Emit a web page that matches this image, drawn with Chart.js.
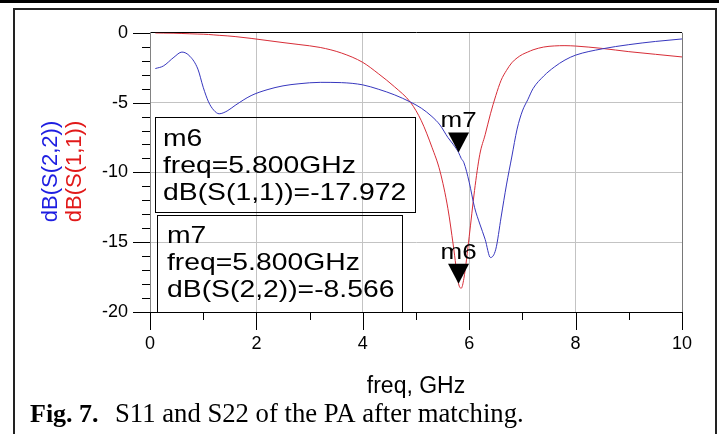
<!DOCTYPE html>
<html>
<head>
<meta charset="utf-8">
<script src="https://cdn.jsdelivr.net/npm/chart.js@4.4.0/dist/chart.umd.min.js"></script>
<style>
html, body { margin: 0; padding: 0; background: #fff; }
#wrap { width: 719px; height: 434px; }
</style>
</head>
<body>
<div id="wrap"><canvas id="grafico" width="719" height="434"></canvas></div>
<script>
// frequencias (GHz) e curvas
const freq = [0.1, 0.25, 0.45, 0.6, 0.75, 0.9, 1.0, 1.1, 1.2, 1.3, 1.45, 1.6, 1.9, 2.2, 2.5, 2.8, 3.2, 3.6,
    4.0, 4.3, 4.6, 4.9, 5.1, 5.3, 5.45, 5.6, 5.7, 5.8, 5.85, 5.9, 6.0, 6.1, 6.2, 6.3, 6.4, 6.5, 6.6, 6.7,
    6.8, 6.9, 7.0, 7.1, 7.2, 7.4, 7.6, 7.8, 8.0, 8.5, 9.0, 9.5, 10];
const s11 = [-0.01, -0.02, -0.03, -0.05, -0.07, -0.09, -0.1, -0.12, -0.15, -0.18, -0.22, -0.27, -0.4, -0.55, -0.7, -0.84, -1.05, -1.45,
    -2.12, -2.95, -3.88, -5.0, -6.3, -8.2, -9.9, -12.6, -15.2, -17.97, -18.3, -17.6, -14.6, -11.3, -8.7, -7.3, -5.8, -4.5, -3.4, -2.7,
    -2.15, -1.8, -1.55, -1.38, -1.22, -1.02, -0.94, -0.92, -0.95, -1.12, -1.35, -1.54, -1.73];
const s22 = [-2.56, -2.38, -1.75, -1.38, -1.68, -2.6, -3.9, -4.95, -5.55, -5.8, -5.6, -5.2, -4.5, -4.08, -3.8, -3.65, -3.55, -3.57,
    -3.73, -4.05, -4.45, -4.97, -5.4, -6.0, -6.6, -7.5, -8.0, -8.57, -9.0, -9.3, -10.7, -12.5, -13.7, -14.8, -16.1, -15.5, -13.2, -10.9,
    -8.9, -6.9, -5.6, -4.8, -4.0, -3.1, -2.45, -1.95, -1.6, -1.15, -0.85, -0.62, -0.44];

const xTicks = [0, 2, 4, 6, 8, 10];
const yTicks = [0, -5, -10, -15, -20];

// marcadores
const markerNames = ['m6', 'm7'];
const markerFreq = [5.8, 5.8];
const markerValues = [-17.972, -8.566];
const markerSeries = ['dB(S(1,1))', 'dB(S(2,2))'];

const SANS = '"Liberation Sans", Arial, sans-serif';
const SERIF = '"Liberation Serif", "Times New Roman", serif';

function textoLargo(ctx, texto, x, y, escala) {
    ctx.save();
    ctx.translate(x, y);
    ctx.scale(escala, 1);
    ctx.fillText(texto, 0, 0);
    ctx.restore();
}

const desenhoExtra = {
    id: 'desenhoExtra',
    afterDraw(chart) {
        const ctx = chart.ctx;
        const sx = chart.scales.x;
        const sy = chart.scales.y;
        const area = chart.chartArea;
        ctx.save();

        // tracos maiores e menores dos eixos
        ctx.strokeStyle = '#000';
        ctx.lineWidth = 1;
        ctx.beginPath();
        sx.ticks.forEach(t => {
            const px = Math.round(sx.getPixelForValue(t.value)) + 0.5;
            const len = xTicks.includes(t.value) ? 18 : 8;
            ctx.moveTo(px, area.bottom);
            ctx.lineTo(px, area.bottom + len);
        });
        sy.ticks.forEach(t => {
            const py = Math.round(sy.getPixelForValue(t.value)) + 0.5;
            const len = yTicks.includes(t.value) ? 17 : 8;
            ctx.moveTo(area.left - len, py);
            ctx.lineTo(area.left, py);
        });
        ctx.stroke();

        // titulo do eixo y, duas cores
        ctx.font = '22px ' + SANS;
        ctx.textAlign = 'center';
        ctx.textBaseline = 'middle';
        [['dB(S(2,2))', 'rgb(30,30,225)', 51], ['dB(S(1,1))', 'rgb(225,25,25)', 75]].forEach(([txt, cor, px]) => {
            ctx.save();
            ctx.translate(px, 171.5);
            ctx.rotate(-Math.PI / 2);
            ctx.fillStyle = cor;
            ctx.fillText(txt, 0, 0);
            ctx.restore();
        });

        // marcadores (triangulos)
        ctx.fillStyle = '#000';
        ctx.textBaseline = 'alphabetic';
        ctx.textAlign = 'left';
        markerNames.forEach((nome, i) => {
            const px = sx.getPixelForValue(markerFreq[i]);
            const py = sy.getPixelForValue(markerValues[i]);
            ctx.beginPath();
            ctx.moveTo(px - 10.5, py - 20);
            ctx.lineTo(px + 10.5, py - 20);
            ctx.lineTo(px, py);
            ctx.closePath();
            ctx.fill();
            ctx.font = '22px ' + SANS;
            const w = ctx.measureText(nome).width * 1.18;
            textoLargo(ctx, nome, px - w / 2, py - 25, 1.18);
        });

        // caixas de leitura
        const caixas = [
            { x: 155.5, y: 117.5, w: 260, h: 95, tx: 163, linhas: [146, 173, 200] },
            { x: 157.5, y: 215.5, w: 245, h: 97, tx: 167, linhas: [243, 270, 297] }
        ];
        ctx.strokeStyle = '#000';
        ctx.lineWidth = 1;
        ctx.font = '24px ' + SANS;
        caixas.forEach((c, i) => {
            ctx.strokeRect(c.x, c.y, c.w, c.h);
            const textos = [markerNames[i], 'freq=' + markerFreq[i].toFixed(3) + 'GHz',
                markerSeries[i] + '=' + markerValues[i]];
            textos.forEach((t, k) => textoLargo(ctx, t, c.tx, c.linhas[k], 1.18));
        });

        // moldura
        ctx.fillStyle = '#000';
        ctx.fillRect(0, 0, 719, 3);
        ctx.fillStyle = '#222';
        ctx.fillRect(13, 8, 704, 2);
        ctx.fillRect(13, 8, 2, 426);
        ctx.fillRect(715, 8, 2, 426);

        // legenda da figura
        ctx.fillStyle = '#000';
        ctx.font = 'bold 26px ' + SERIF;
        ctx.fillText('Fig. 7.', 30, 422);
        ctx.font = '26.7px ' + SERIF;
        ctx.fillText('S11 and S22 of the PA after matching.', 115, 422);
        ctx.restore();
    }
};

const ctx = document.getElementById('grafico');

const myChart = new Chart(ctx, {
    type: 'line',
    data: {
        datasets: [{
            label: 'dB(S(2,2))',
            data: freq.map((f, i) => ({ x: f, y: s22[i] })),
            borderColor: 'rgb(55,55,190)',
            borderWidth: 1,
            pointRadius: 0,
            cubicInterpolationMode: 'monotone'
        }, {
            label: 'dB(S(1,1))',
            data: freq.map((f, i) => ({ x: f, y: s11[i] })),
            borderColor: 'rgb(215,45,55)',
            borderWidth: 1,
            pointRadius: 0,
            cubicInterpolationMode: 'monotone'
        }]
    },
    options: {
        responsive: false,
        animation: false,
        devicePixelRatio: 1,
        layout: { padding: { top: 26, right: 37, left: 0, bottom: 0 } },
        plugins: {
            legend: { display: false },
            tooltip: { enabled: false }
        },
        scales: {
            x: {
                type: 'linear',
                min: 0,
                max: 10,
                afterFit: (scale) => { scale.height = 122; },
                ticks: {
                    stepSize: 1,
                    autoSkip: false,
                    maxRotation: 0,
                    padding: 21,
                    color: '#000',
                    font: { family: SANS, size: 18 },
                    callback: (v) => xTicks.includes(v) ? String(v) : ''
                },
                grid: {
                    drawTicks: false,
                    color: (c) => {
                        const v = c.tick ? c.tick.value : null;
                        if (v === 10) return 'rgb(120,120,120)';
                        if (xTicks.includes(v) && v !== 0) return 'rgb(195,195,195)';
                        return 'rgba(0,0,0,0)';
                    }
                },
                border: { color: '#000', width: 1 },
                title: {
                    display: true,
                    text: 'freq, GHz',
                    color: '#000',
                    font: { family: SANS, size: 23 },
                    padding: { top: 0, bottom: 34 }
                }
            },
            y: {
                type: 'linear',
                min: -20,
                max: 0,
                afterFit: (scale) => { scale.width = 150; },
                ticks: {
                    stepSize: 1,
                    autoSkip: false,
                    padding: 22,
                    color: '#000',
                    font: { family: SANS, size: 18 },
                    callback: (v) => yTicks.includes(v) ? String(v) : ''
                },
                grid: {
                    drawTicks: false,
                    color: (c) => {
                        const v = c.tick ? c.tick.value : null;
                        if (v === 0) return '#000';
                        if (yTicks.includes(v) && v !== -20) return 'rgb(195,195,195)';
                        return 'rgba(0,0,0,0)';
                    }
                },
                border: { color: 'rgb(130,130,130)', width: 1 }
            }
        }
    },
    plugins: [desenhoExtra]
});
</script>
</body>
</html>
